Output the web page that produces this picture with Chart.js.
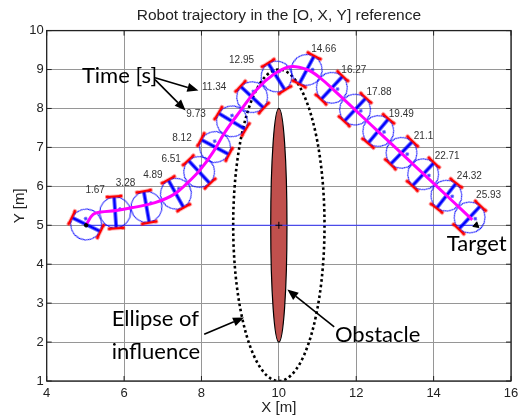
<!DOCTYPE html>
<html>
<head>
<meta charset="utf-8">
<script src="https://cdn.jsdelivr.net/npm/chart.js@4.4.1/dist/chart.umd.min.js"></script>
<style>
  html, body { margin: 0; padding: 0; background: #fff; }
  #wrap { width: 528px; height: 419px; }
</style>
</head>
<body>
<div id="wrap"><canvas id="traj" width="528" height="419"></canvas></div>
<script>
// ---- data (metres / seconds / degrees) ----
const robotTimes = ['', '1.67', '3.28', '4.89', '6.51', '8.12', '9.73', '11.34', '12.95',
                    '14.66', '16.27', '17.88', '19.49', '21.1', '22.71', '24.32', '25.93'];
const robotX = [5.02, 5.77, 6.58, 7.34, 7.94, 8.35, 8.79, 9.31, 9.94,
                10.72, 11.37, 11.97, 12.57, 13.17, 13.73, 14.33, 14.93];
const robotY = [5.02, 5.33, 5.47, 5.81, 6.37, 7.01, 7.67, 8.29, 8.82,
                8.99, 8.53, 7.97, 7.42, 6.86, 6.31, 5.76, 5.20];
// robot heading, counter-clockwise from +X
const robotHeading = [64, 4, 10, 29, 43, 62, 59, 47, 32,
                      -28, -43, -43, -40, -44, -43, -38, -43];

const pathX = [5.03, 5.20, 5.40, 5.80, 6.25, 6.80, 7.30, 7.65, 7.97, 8.30, 8.60,
               9.00, 9.43, 9.86, 10.29, 10.72, 11.05, 11.50, 12.50, 13.50, 14.50, 15.00];
const pathY = [5.03, 5.28, 5.34, 5.38, 5.46, 5.58, 5.80, 6.10, 6.43, 6.88, 7.38,
               7.93, 8.49, 8.87, 9.07, 9.00, 8.80, 8.40, 7.47, 6.54, 5.61, 5.14];

const startPoint = [5.02, 5.0];
const targetPoint = [15.1, 5.0];

// ellipses: centre x, centre y, half-width, half-height
const obstacle = [10.0, 5.0, 0.21, 3.0];
const influence = [10.0, 5.0, 1.18, 4.0];

const xTicks = [4, 6, 8, 10, 12, 14, 16];
const yTicks = [1, 2, 3, 4, 5, 6, 7, 8, 9, 10];

// ---- robot glyph (circle body, axle, two wheels), heading along +x ----
function makeRobotGlyph() {
    const s = 46, c = s / 2, r = 15.5, w = 16;
    const g = document.createElement('canvas');
    g.width = s; g.height = s;
    const x = g.getContext('2d');
    x.strokeStyle = '#0000ff';
    x.lineWidth = 1;
    x.beginPath(); x.arc(c, c, r, 0, Math.PI * 2); x.stroke();
    x.lineWidth = 3.2;
    x.beginPath(); x.moveTo(c, c - w); x.lineTo(c, c + w); x.stroke();
    // little heading mark
    x.lineWidth = 1;
    x.beginPath();
    x.moveTo(c + 3, c - 3); x.lineTo(c + 7, c - 3);
    x.moveTo(c + 5, c - 5); x.lineTo(c + 5, c - 1);
    x.stroke();
    x.strokeStyle = '#ff0000';
    x.fillStyle = '#ff0000';
    x.lineWidth = 2.5;
    [-1, 1].forEach(side => {
        const wy = c + side * w;
        x.beginPath(); x.moveTo(c - 6.5, wy); x.lineTo(c + 6.5, wy); x.stroke();
        x.fillRect(c - 8.5, wy - 1.5, 3, 3);
        x.fillRect(c + 5.5, wy - 1.5, 3, 3);
    });
    return g;
}
const robotGlyph = makeRobotGlyph();

const FONT = "'Liberation Sans', Arial, Helvetica, sans-serif";
const NOTE_FONT = "Lato, 'Open Sans', sans-serif";

// ---- extras: ellipses, labels, arrows, frame ----
const sceneExtras = {
    id: 'sceneExtras',
    beforeDatasetsDraw(chart) {
        const { ctx, chartArea: a, scales: { x, y } } = chart;
        const ell = (e) => {
            const cx = x.getPixelForValue(e[0]), cy = y.getPixelForValue(e[1]);
            const rx = Math.abs(x.getPixelForValue(e[0] + e[2]) - cx);
            const ry = Math.abs(y.getPixelForValue(e[1] + e[3]) - cy);
            ctx.beginPath();
            ctx.ellipse(cx, cy, rx, ry, 0, 0, Math.PI * 2);
        };
        ctx.save();
        ctx.beginPath(); ctx.rect(a.left, a.top, a.width, a.height); ctx.clip();
        // ellipse of influence (dotted)
        ell(influence);
        ctx.setLineDash([2.6, 2.8]);
        ctx.lineWidth = 2.6;
        ctx.strokeStyle = '#000';
        ctx.stroke();
        ctx.setLineDash([]);
        // obstacle
        ell(obstacle);
        ctx.fillStyle = '#c0504d';
        ctx.fill();
        ctx.lineWidth = 1.2;
        ctx.strokeStyle = '#000';
        ctx.stroke();
        ctx.restore();
    },
    afterDatasetsDraw(chart, args, opts) {
        const { ctx, chartArea: a, scales: { x, y } } = chart;
        ctx.save();

        // time labels next to each robot
        const pts = chart.getDatasetMeta(1).data;
        ctx.font = '10px ' + FONT;
        ctx.fillStyle = '#333';
        ctx.textAlign = 'center';
        ctx.textBaseline = 'middle';
        robotTimes.forEach((t, i) => {
            if (!t) return;
            const off = opts.timeOffsets[i];
            ctx.fillText(t, pts[i].x + off[0], pts[i].y + off[1]);
        });

        // callout arrows
        ctx.strokeStyle = '#000';
        ctx.fillStyle = '#000';
        ctx.lineWidth = 1.6;
        opts.arrows.forEach(ar => {
            const x0 = x.getPixelForValue(ar[0]), y0 = y.getPixelForValue(ar[1]);
            const x1 = x.getPixelForValue(ar[2]), y1 = y.getPixelForValue(ar[3]);
            const ang = Math.atan2(y1 - y0, x1 - x0);
            const hl = 11, hw = 4.5;
            const bx = x1 - hl * Math.cos(ang), by = y1 - hl * Math.sin(ang);
            ctx.beginPath(); ctx.moveTo(x0, y0); ctx.lineTo(bx, by); ctx.stroke();
            ctx.beginPath();
            ctx.moveTo(x1, y1);
            ctx.lineTo(bx + hw * Math.sin(ang), by - hw * Math.cos(ang));
            ctx.lineTo(bx - hw * Math.sin(ang), by + hw * Math.cos(ang));
            ctx.closePath();
            ctx.fill();
        });

        // annotation texts
        ctx.font = '22px ' + NOTE_FONT;
        ctx.fillStyle = '#000';
        ctx.textAlign = 'left';
        ctx.textBaseline = 'alphabetic';
        opts.notes.forEach(n => {
            ctx.fillText(n.text, x.getPixelForValue(n.x), y.getPixelForValue(n.y));
        });

        // box and inward ticks
        ctx.strokeStyle = '#222';
        ctx.lineWidth = 1.3;
        ctx.strokeRect(a.left, a.top, a.width, a.height);
        ctx.lineWidth = 1;
        ctx.beginPath();
        xTicks.forEach(v => {
            const px = x.getPixelForValue(v);
            ctx.moveTo(px, a.bottom); ctx.lineTo(px, a.bottom - 5);
            ctx.moveTo(px, a.top); ctx.lineTo(px, a.top + 5);
        });
        yTicks.forEach(v => {
            const py = y.getPixelForValue(v);
            ctx.moveTo(a.left, py); ctx.lineTo(a.left + 5, py);
            ctx.moveTo(a.right, py); ctx.lineTo(a.right - 5, py);
        });
        ctx.stroke();
        ctx.restore();
    }
};

const toPoints = (xs, ys) => xs.map((v, i) => ({ x: v, y: ys[i] }));

new Chart(document.getElementById('traj'), {
    type: 'scatter',
    data: {
        datasets: [
            {   // magenta trajectory
                type: 'line',
                data: toPoints(pathX, pathY),
                borderColor: '#ff00ff',
                borderWidth: 3,
                pointRadius: 0,
                tension: 0.4,
                order: 1
            },
            {   // robot poses
                data: toPoints(robotX, robotY),
                pointStyle: robotGlyph,
                pointRadius: 15,
                pointRotation: ctx => -robotHeading[ctx.dataIndex],
                order: 2
            },
            {   // straight start -> target line
                type: 'line',
                data: toPoints([startPoint[0], targetPoint[0]], [startPoint[1], targetPoint[1]]),
                borderColor: '#3434ff',
                borderWidth: 1,
                pointRadius: 0,
                order: 3
            },
            {   // target arrow head
                data: [{ x: targetPoint[0], y: targetPoint[1] }],
                pointStyle: 'triangle',
                pointRadius: 3.5,
                pointRotation: 130,
                backgroundColor: '#000',
                borderColor: '#000',
                order: 0
            },
            {   // start marker
                data: [{ x: startPoint[0], y: startPoint[1] }],
                pointStyle: 'circle',
                pointRadius: 1.8,
                backgroundColor: '#000',
                borderColor: '#000',
                order: 0
            },
            {   // obstacle centre
                data: [{ x: obstacle[0], y: obstacle[1] }],
                pointStyle: 'cross',
                pointRadius: 3.5,
                borderColor: '#000',
                borderWidth: 1,
                order: 0
            }
        ]
    },
    options: {
        responsive: false,
        animation: false,
        layout: { padding: { top: 0, right: 17, bottom: 0, left: 0 } },
        scales: {
            x: {
                type: 'linear',
                min: 4, max: 16,
                afterBuildTicks: s => { s.ticks = xTicks.map(v => ({ value: v })); },
                afterFit: s => { s.height = 38; },
                grid: { color: '#969696', lineWidth: 1, drawTicks: false },
                border: { display: false },
                ticks: { padding: 5, color: '#222', autoSkip: false, maxRotation: 0,
                         font: { family: FONT, size: 13 } },
                title: { display: true, text: 'X [m]', color: '#222',
                         font: { family: FONT, size: 15 }, padding: { top: 0, bottom: 2 } }
            },
            y: {
                type: 'linear',
                min: 1, max: 10,
                afterBuildTicks: s => { s.ticks = yTicks.map(v => ({ value: v })); },
                afterFit: s => { s.width = 46.7; },
                grid: { color: '#969696', lineWidth: 1, drawTicks: false },
                border: { display: false },
                ticks: { padding: 3, color: '#222', autoSkip: false,
                         font: { family: FONT, size: 13 } },
                title: { display: true, text: 'Y [m]', color: '#222',
                         font: { family: FONT, size: 15 }, padding: { top: 11, bottom: 0 } }
            }
        },
        plugins: {
            legend: { display: false },
            tooltip: { enabled: false },
            title: {
                display: true,
                fullSize: false,
                text: 'Robot trajectory in the [O, X, Y] reference',
                color: '#222',
                font: { family: FONT, size: 15.5, weight: 'normal' },
                padding: { top: 6, bottom: 6 }
            },
            sceneExtras: {
                // pixel offset of each time label from its robot centre
                timeOffsets: [[0, 0], [-20, -22], [-21, -24], [-23, -18], [-28, -13], [-33, -9],
                              [-36, -7], [-38, -10], [-35, -16], [17, -21], [22, -18], [24, -17],
                              [23, -17], [22, -17], [24, -18], [23, -19], [19, -22]],
                arrows: [[6.80, 8.79, 7.92, 8.46], [6.80, 8.74, 7.59, 7.95],
                         [8.07, 2.20, 9.10, 2.63], [11.43, 2.39, 10.22, 3.35]],
                notes: [
                    { text: 'Time [s]', x: 4.91, y: 8.65 },
                    { text: 'Target', x: 14.34, y: 4.35 },
                    { text: 'Ellipse of', x: 5.68, y: 2.42 },
                    { text: 'influence', x: 5.68, y: 1.56 },
                    { text: 'Obstacle', x: 11.45, y: 2.01 }
                ]
            }
        }
    },
    plugins: [sceneExtras]
});
</script>
</body>
</html>
